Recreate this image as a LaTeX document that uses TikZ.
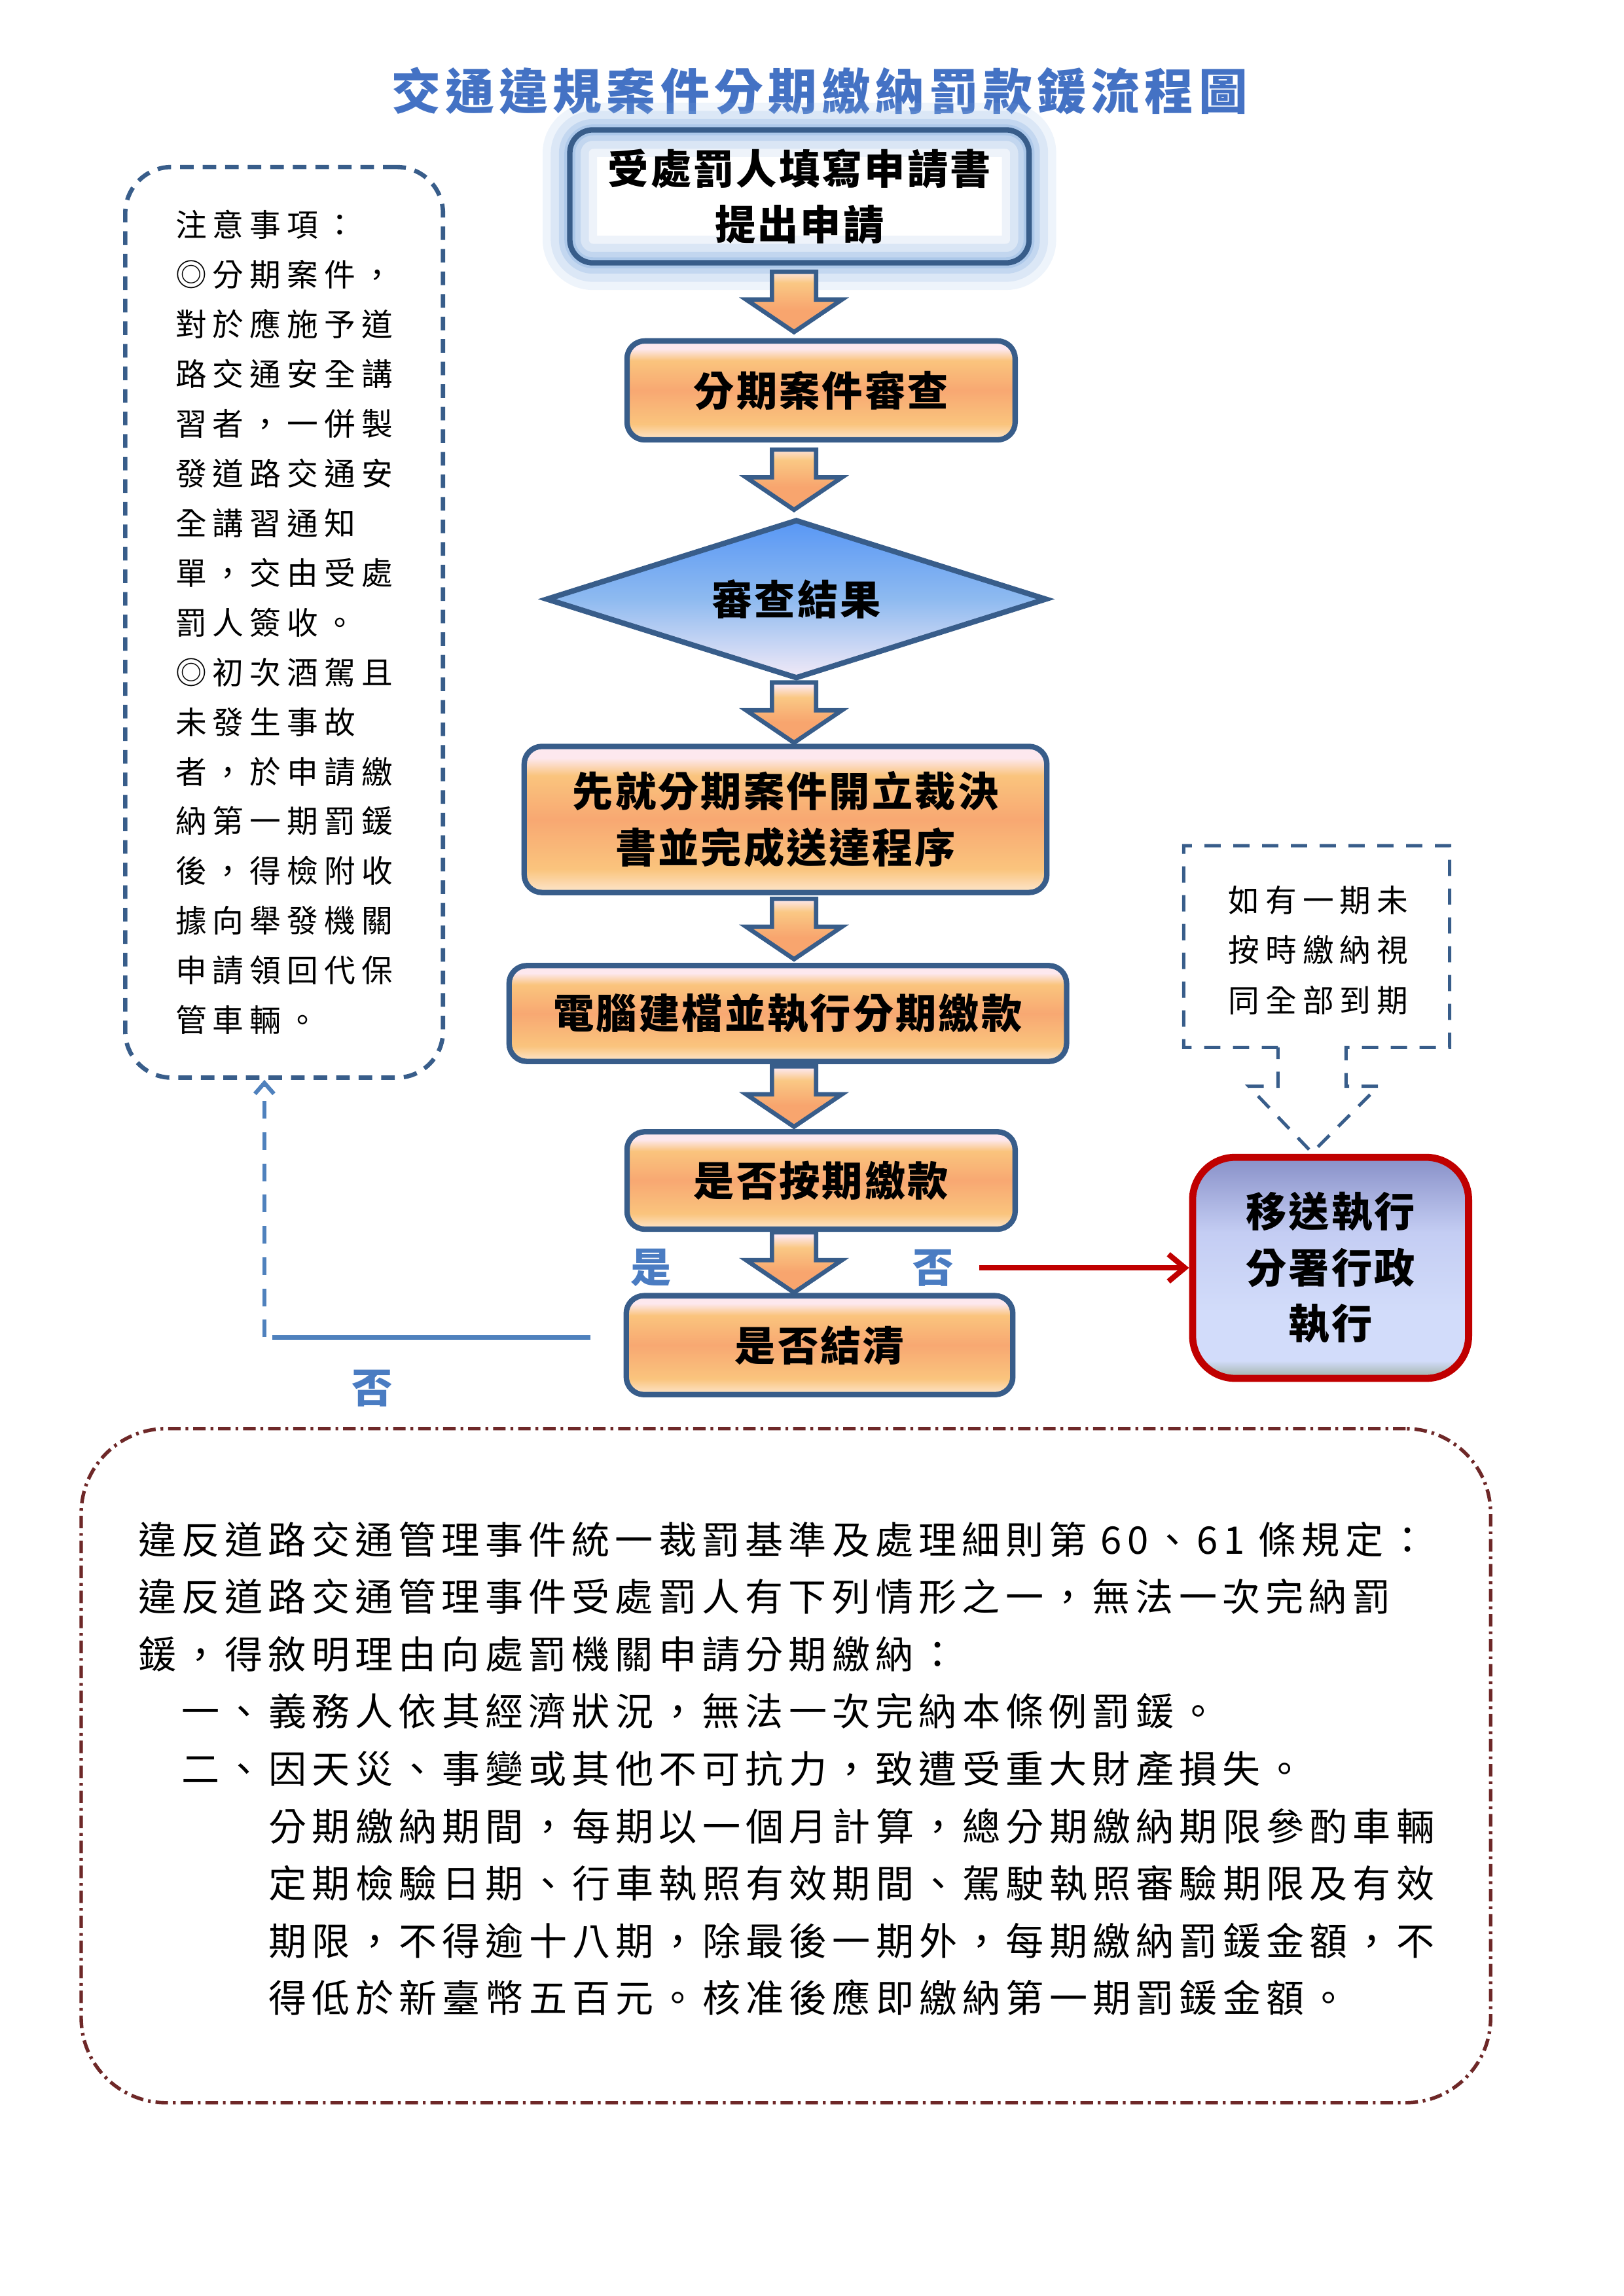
\documentclass[tikz,border=0pt]{standalone}
\usepackage{fontspec}
\setmainfont{Noto Sans CJK TC}
\newfontfamily\titlefont[LetterSpace=10]{Noto Sans CJK TC}
\newfontfamily\boxfont[LetterSpace=5]{Noto Sans CJK TC}
\newfontfamily\notefont[LetterSpace=19]{Noto Sans CJK TC}
\newfontfamily\lawfont[LetterSpace=14]{Noto Sans CJK TC}
\usetikzlibrary{shapes,arrows.meta,calc}

\definecolor{bord}{RGB}{56,93,138}
\definecolor{glowblue}{RGB}{141,179,226}
\definecolor{titleblue}{RGB}{68,114,196}
\definecolor{lblblue}{RGB}{74,124,194}
\definecolor{linkblue}{RGB}{79,129,189}
\definecolor{execred}{RGB}{192,0,0}
\definecolor{lawred}{RGB}{110,40,40}
\definecolor{otop}{RGB}{253,232,238}
\definecolor{oyel}{RGB}{250,196,125}
\definecolor{omid}{RGB}{248,168,114}
\definecolor{obot}{RGB}{253,230,205}
\definecolor{atop}{RGB}{253,232,240}
\definecolor{amid}{RGB}{250,200,132}
\definecolor{abot}{RGB}{248,165,110}
\definecolor{dtop}{RGB}{88,151,245}
\definecolor{dmid}{RGB}{142,186,240}
\definecolor{dbot}{RGB}{242,234,247}
\definecolor{rtop}{RGB}{136,144,200}
\definecolor{rmid}{RGB}{196,205,243}
\definecolor{rlow}{RGB}{210,220,250}
\definecolor{rbot}{RGB}{158,176,162}

\pgfdeclareverticalshading{orangebox}{100bp}{color(0bp)=(obot); color(25bp)=(obot); color(33bp)=(oyel); color(50bp)=(omid); color(65bp)=(oyel); color(71bp)=(otop); color(100bp)=(otop)}
\pgfdeclareverticalshading{arrowshade}{100bp}{color(0bp)=(abot); color(42bp)=(abot); color(62bp)=(amid); color(72bp)=(atop); color(100bp)=(atop)}
\pgfdeclareverticalshading{diashade}{100bp}{color(0bp)=(dbot); color(25bp)=(dbot); color(50bp)=(dmid); color(75bp)=(dtop); color(100bp)=(dtop)}
\pgfdeclareverticalshading{execshade}{100bp}{color(0bp)=(rbot); color(25bp)=(rbot); color(29bp)=(rlow); color(40bp)=(rlow); color(58bp)=(rmid); color(75bp)=(rtop); color(100bp)=(rtop)}

\begin{document}
\begin{tikzpicture}[
  flow/.style={rectangle, rounded corners=0.23cm, draw=bord, line width=2pt, shading=orangebox, align=center, inner sep=0pt, font=\boxfont\bfseries\fontsize{15}{20.6}\selectfont},
  start/.style={rectangle, rounded corners=0.3cm, draw=bord, line width=2pt, align=center, inner sep=0pt, font=\boxfont\bfseries\fontsize{15}{20.6}\selectfont, preaction={fill=white}, preaction={draw=glowblue, line width=20pt, opacity=0.15}, preaction={draw=glowblue, line width=14pt, opacity=0.2}, preaction={draw=glowblue, line width=8pt, opacity=0.3}, preaction={draw=glowblue, line width=4pt, opacity=0.4}},
  decide/.style={diamond, aspect=3.15, draw=bord, line width=2pt, shading=diashade, inner sep=0pt, font=\boxfont\bfseries\fontsize{15}{20.6}\selectfont},
  execbox/.style={rectangle, rounded corners=0.55cm, draw=execred, line width=2.6pt, shading=execshade, align=center, inner sep=0pt, font=\boxfont\bfseries\fontsize{15}{20.6}\selectfont},
  flowarrow/.style={draw=bord, line width=1.6pt, line join=miter, shade, shading=arrowshade,
    to path={let \p1=(\tikztostart), \p2=(\tikztotarget), \p3=($(\p1)!0.5!(\p2)$) in
      (\x1-0.285cm,\y3+0.39cm) -- (\x1+0.285cm,\y3+0.39cm) -- (\x1+0.285cm,\y3+0.03cm)
      -- (\x1+0.62cm,\y3+0.03cm) -- (\x1,\y3-0.39cm) -- (\x1-0.62cm,\y3+0.03cm)
      -- (\x1-0.285cm,\y3+0.03cm) -- cycle}},
  lbl/.style={text=lblblue, font=\boxfont\bfseries\fontsize{15}{18}\selectfont},
  link/.style={draw=linkblue, line width=1.5pt},
  note/.style={rectangle, rounded corners=0.6cm, draw=bord, line width=1.6pt, dash pattern=on 5pt off 3.3pt, align=left, inner sep=0pt, font=\notefont\fontsize{11.5}{18.3}\selectfont},
  late/.style={align=center, inner sep=0pt, font=\notefont\fontsize{11.5}{18.4}\selectfont},
  callout/.style={draw=bord, line width=1.2pt, dash pattern=on 6pt off 4.6pt},
  lawbox/.style={rectangle, rounded corners=1.1cm, draw=lawred, line width=1.3pt, dash pattern=on 4.6pt off 1.8pt on 1pt off 1.8pt},
  lawtext/.style={align=left, inner sep=0pt, font=\lawfont\fontsize{14}{21.1}\selectfont}
]
\useasboundingbox (0,0) rectangle (21,-29.7);
\coordinate (ax) at (10.27,0);

\node[text=titleblue, font=\titlefont\bfseries\fontsize{18}{22}\selectfont] (title) at (10.60,-1.18) {交通違規案件分期繳納罰款鍰流程圖};

% main column
\node[start, minimum width=5.94cm, minimum height=1.72cm] (b1) at (10.34,-2.54) {受處罰人填寫申請書\\提出申請};
\node[flow, minimum width=5.02cm, minimum height=1.28cm] (b2) at (10.62,-5.05) {分期案件審查};
\node[decide, minimum width=6.48cm, minimum height=2.06cm] (dia) at (10.30,-7.75) {審查結果};
\node[flow, minimum width=6.76cm, minimum height=1.89cm] (b3) at (10.16,-10.60) {先就分期案件開立裁決\\書並完成送達程序};
\node[flow, minimum width=7.21cm, minimum height=1.24cm] (b4) at (10.19,-13.11) {電腦建檔並執行分期繳款};
\node[flow, minimum width=5.02cm, minimum height=1.26cm] (b5) at (10.62,-15.27) {是否按期繳款};
\node[flow, minimum width=5.0cm, minimum height=1.28cm] (b6) at (10.60,-17.40) {是否結清};
\node[execbox, minimum width=3.57cm, minimum height=2.86cm] (send) at (17.21,-16.40) {移送執行\\分署行政\\執行};

\path[flowarrow] (b1.south -| ax) to (b2.north -| ax);
\path[flowarrow] (b2.south -| ax) to (dia.north -| ax);
\path[flowarrow] (dia.south -| ax) to (b3.north -| ax);
\path[flowarrow] (b3.south -| ax) to (b4.north -| ax);
\path[flowarrow] (b4.south -| ax) to (b5.north -| ax);
\path[flowarrow] (b5.south -| ax) to (b6.north -| ax);

\node[lbl] (yes) at (8.42,-16.40) {是};
\node[lbl] (no) at (12.07,-16.40) {否};
\node[lbl] (back) at (4.81,-17.96) {否};

% notes
\node[note, minimum width=4.11cm, minimum height=11.78cm] (note) at (3.675,-8.05) {注意事項：\\◎分期案件，\\對於應施予道\\路交通安全講\\習者，一併製\\發道路交通安\\全講習通知\\單，交由受處\\罰人簽收。\\◎初次酒駕且\\未發生事故\\者，於申請繳\\納第一期罰鍰\\後，得檢附收\\據向舉發機關\\申請領回代保\\管車輛。};

\node[late] (late) at (17.05,-12.29) {如有一期未\\按時繳納視\\同全部到期};
\draw[callout] (16.53,-13.55) -- (15.31,-13.55) -- (15.31,-10.94) -- (18.75,-10.94) -- (18.75,-13.55) -- (17.41,-13.55) -- (17.41,-14.05) -- (17.83,-14.05) -- (16.97,-14.91) -- (16.15,-14.05) -- (16.53,-14.05) -- cycle;

\coordinate (turn) at (3.42,-17.30);
\draw[link, shorten <=0.43cm, shorten >=0.1cm] (b6.west |- turn) -- (turn);
\draw[link, dash pattern=on 6.5pt off 5pt, -{Straight Barb[length=4pt,width=7pt]}] (turn) -- (turn |- note.south);
\draw[draw=execred, line width=2pt, shorten <=6pt, -{Straight Barb[length=6pt,width=10pt]}] (no) -- (no -| send.west);

% rules text
\node[lawbox, minimum width=18.23cm, minimum height=8.72cm] (lawbox) at (10.165,-22.84) {};
\node[lawtext, anchor=north west] (law) at (1.78,-19.675) {違反道路交通管理事件統一裁罰基準及處理細則第 60、61 條規定：\\違反道路交通管理事件受處罰人有下列情形之一，無法一次完納罰\\鍰，得敘明理由向處罰機關申請分期繳納：\\\hspace*{0.563cm}一、義務人依其經濟狀況，無法一次完納本條例罰鍰。\\\hspace*{0.563cm}二、因天災、事變或其他不可抗力，致遭受重大財產損失。\\\hspace*{1.69cm}分期繳納期間，每期以一個月計算，總分期繳納期限參酌車輛\\\hspace*{1.69cm}定期檢驗日期、行車執照有效期間、駕駛執照審驗期限及有效\\\hspace*{1.69cm}期限，不得逾十八期，除最後一期外，每期繳納罰鍰金額，不\\\hspace*{1.69cm}得低於新臺幣五百元。核准後應即繳納第一期罰鍰金額。};
\end{tikzpicture}
\end{document}
